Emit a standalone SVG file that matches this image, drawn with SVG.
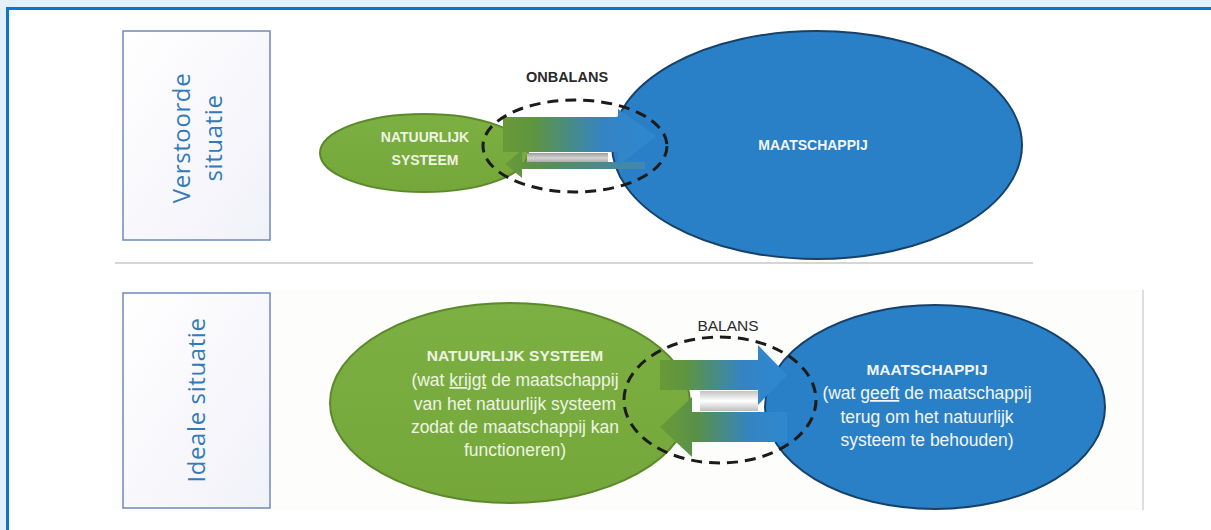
<svg xmlns="http://www.w3.org/2000/svg" width="1211" height="530" viewBox="0 0 1211 530">
  <defs>
    <style>
      .frame-fill { fill: #e4f0f9; }
      .frame-line { fill: #0a78c4; }
      .label-box { fill: url(#boxGrad); stroke: #6f89b9; stroke-width: 1.5; }
      .label-text { font-family: "Open Sans", "DejaVu Sans", sans-serif; font-size: 24px; fill: #3479b8; letter-spacing: 0.6px; text-anchor: middle; }
      .green-node { fill: url(#greenGrad); stroke: #5c8a2b; stroke-width: 2; }
      .blue-node { fill: #2a80c6; stroke: #16416b; stroke-width: 2; }
      .node-title { font-family: "Liberation Sans", Arial, sans-serif; font-weight: bold; text-anchor: middle; }
      .node-body { font-family: "Liberation Sans", Arial, sans-serif; text-anchor: middle; font-size: 17.5px; }
      .on-green { fill: #eef4e2; }
      .on-blue { fill: #f2f6fa; }
      .balance { fill: none; stroke: #1b1b1b; stroke-width: 3; stroke-dasharray: 11 7; }
      .balance-label { font-family: "Liberation Sans", Arial, sans-serif; fill: #2b2b2b; text-anchor: middle; }
      .sep { stroke: #c8c8c8; stroke-width: 1.5; }
    </style>
    <linearGradient id="boxGrad" x1="0" y1="0" x2="1" y2="1">
      <stop offset="0" stop-color="#ffffff"/>
      <stop offset="1" stop-color="#f1f1f9"/>
    </linearGradient>
    <linearGradient id="greenGrad" x1="0" y1="0" x2="0" y2="1">
      <stop offset="0" stop-color="#7db043"/>
      <stop offset="1" stop-color="#74a63a"/>
    </linearGradient>
    <linearGradient id="arrowR" x1="0" y1="0" x2="1" y2="0">
      <stop offset="0" stop-color="#6a9a36"/>
      <stop offset="0.2" stop-color="#5f9440"/>
      <stop offset="0.65" stop-color="#3484c4"/>
      <stop offset="1" stop-color="#2e88d0"/>
    </linearGradient>
    <linearGradient id="arrowL" x1="0" y1="0" x2="1" y2="0">
      <stop offset="0" stop-color="#6a9a36"/>
      <stop offset="0.3" stop-color="#58904a"/>
      <stop offset="0.7" stop-color="#3584c2"/>
      <stop offset="1" stop-color="#2e88d0"/>
    </linearGradient>
    <linearGradient id="thinL" x1="0" y1="0" x2="1" y2="0">
      <stop offset="0" stop-color="#6a9a36"/>
      <stop offset="0.25" stop-color="#5a8f50"/>
      <stop offset="1" stop-color="#3f86b8"/>
    </linearGradient>
    <linearGradient id="barGrey" x1="0" y1="0" x2="0" y2="1">
      <stop offset="0" stop-color="#9c9c9c"/>
      <stop offset="0.5" stop-color="#d4d4d4"/>
      <stop offset="1" stop-color="#a0a0a0"/>
    </linearGradient>
    <linearGradient id="barWhite" x1="0" y1="0" x2="0" y2="1">
      <stop offset="0" stop-color="#c4c4c4"/>
      <stop offset="0.5" stop-color="#ffffff"/>
      <stop offset="1" stop-color="#bdbdbd"/>
    </linearGradient>
  </defs>

  <rect x="0" y="0" width="1211" height="530" fill="#ffffff"/>

  <g id="frame">
    <rect class="frame-fill" x="0" y="0" width="1211" height="7"/>
    <rect class="frame-fill" x="0" y="0" width="6" height="530"/>
    <rect class="frame-line" x="6" y="7" width="1205" height="3"/>
    <rect class="frame-line" x="6" y="7" width="3" height="523"/>
  </g>

  <g id="panels">
    <rect x="112" y="290" width="1031" height="220" fill="#fdfdfc"/>
    <line x1="1143" y1="290" x2="1143" y2="510" stroke="#d2d2d2" stroke-width="1.5"/>
    <line class="sep" x1="115" y1="263" x2="1033" y2="263"/>
  </g>

  <g id="label-verstoorde">
    <rect class="label-box" x="123" y="31" width="147" height="209"/>
    <text class="label-text" transform="translate(190,138) rotate(-90)">Verstoorde</text>
    <text class="label-text" transform="translate(222,138) rotate(-90)">situatie</text>
  </g>

  <g id="label-ideale">
    <rect class="label-box" x="123" y="293" width="147" height="215"/>
    <text class="label-text" transform="translate(205,400) rotate(-90)">Ideale situatie</text>
  </g>

  <g id="node-natuur-verstoord">
    <ellipse class="green-node" cx="424" cy="153" rx="104" ry="39"/>
    <text class="node-title on-green" font-size="14" x="425" y="142">NATUURLIJK</text>
    <text class="node-title on-green" font-size="14" x="425" y="165">SYSTEEM</text>
  </g>

  <g id="node-maatschappij-verstoord">
    <ellipse class="blue-node" cx="817" cy="145" rx="205" ry="114"/>
    <text class="node-title on-blue" font-size="14" x="813" y="150">MAATSCHAPPIJ</text>
  </g>

  <g id="node-natuur-ideaal">
    <ellipse class="green-node" cx="510" cy="403" rx="180" ry="100"/>
    <text class="node-title on-green" font-size="15.5" x="515" y="361">NATUURLIJK SYSTEEM</text>
    <text class="node-body on-green" x="515" y="386">(wat <tspan text-decoration="underline">krijgt</tspan> de maatschappij</text>
    <text class="node-body on-green" x="515" y="410">van het natuurlijk systeem</text>
    <text class="node-body on-green" x="515" y="433">zodat de maatschappij kan</text>
    <text class="node-body on-green" x="515" y="456">functioneren)</text>
  </g>

  <g id="node-maatschappij-ideaal">
    <ellipse class="blue-node" cx="935" cy="407" rx="170" ry="102"/>
    <text class="node-title on-blue" font-size="15.5" x="927" y="375">MAATSCHAPPIJ</text>
    <text class="node-body on-blue" x="927" y="399">(wat <tspan text-decoration="underline">geeft</tspan> de maatschappij</text>
    <text class="node-body on-blue" x="927" y="423">terug om het natuurlijk</text>
    <text class="node-body on-blue" x="927" y="446">systeem te behouden)</text>
  </g>

  <g id="connectors">
    <rect x="527" y="153" width="81" height="10" fill="url(#barGrey)"/>
    <polygon points="645,162 522,162 522,150 505,164 522,178 522,169 645,169" fill="url(#thinL)"/>
    <polygon points="503,117 618,117 618,109 656,136 618,166 618,152 503,152" fill="url(#arrowR)"/>
    <rect x="700" y="391" width="58" height="20" fill="url(#barWhite)"/>
    <polygon points="660,360 758,360 758,345 787,375 758,405 758,390 660,390" fill="url(#arrowR)"/>
    <polygon points="787,412 692,412 692,397 660,427 692,457 692,442 787,442" fill="url(#arrowL)"/>
  </g>

  <g id="onbalans">
    <ellipse class="balance" cx="575" cy="146" rx="92" ry="46"/>
    <text class="balance-label" font-weight="bold" font-size="14.5" x="567" y="82">ONBALANS</text>
  </g>

  <g id="balans">
    <ellipse class="balance" cx="720" cy="400" rx="96" ry="63"/>
    <text class="balance-label" font-size="15.5" x="728" y="331">BALANS</text>
  </g>
</svg>
